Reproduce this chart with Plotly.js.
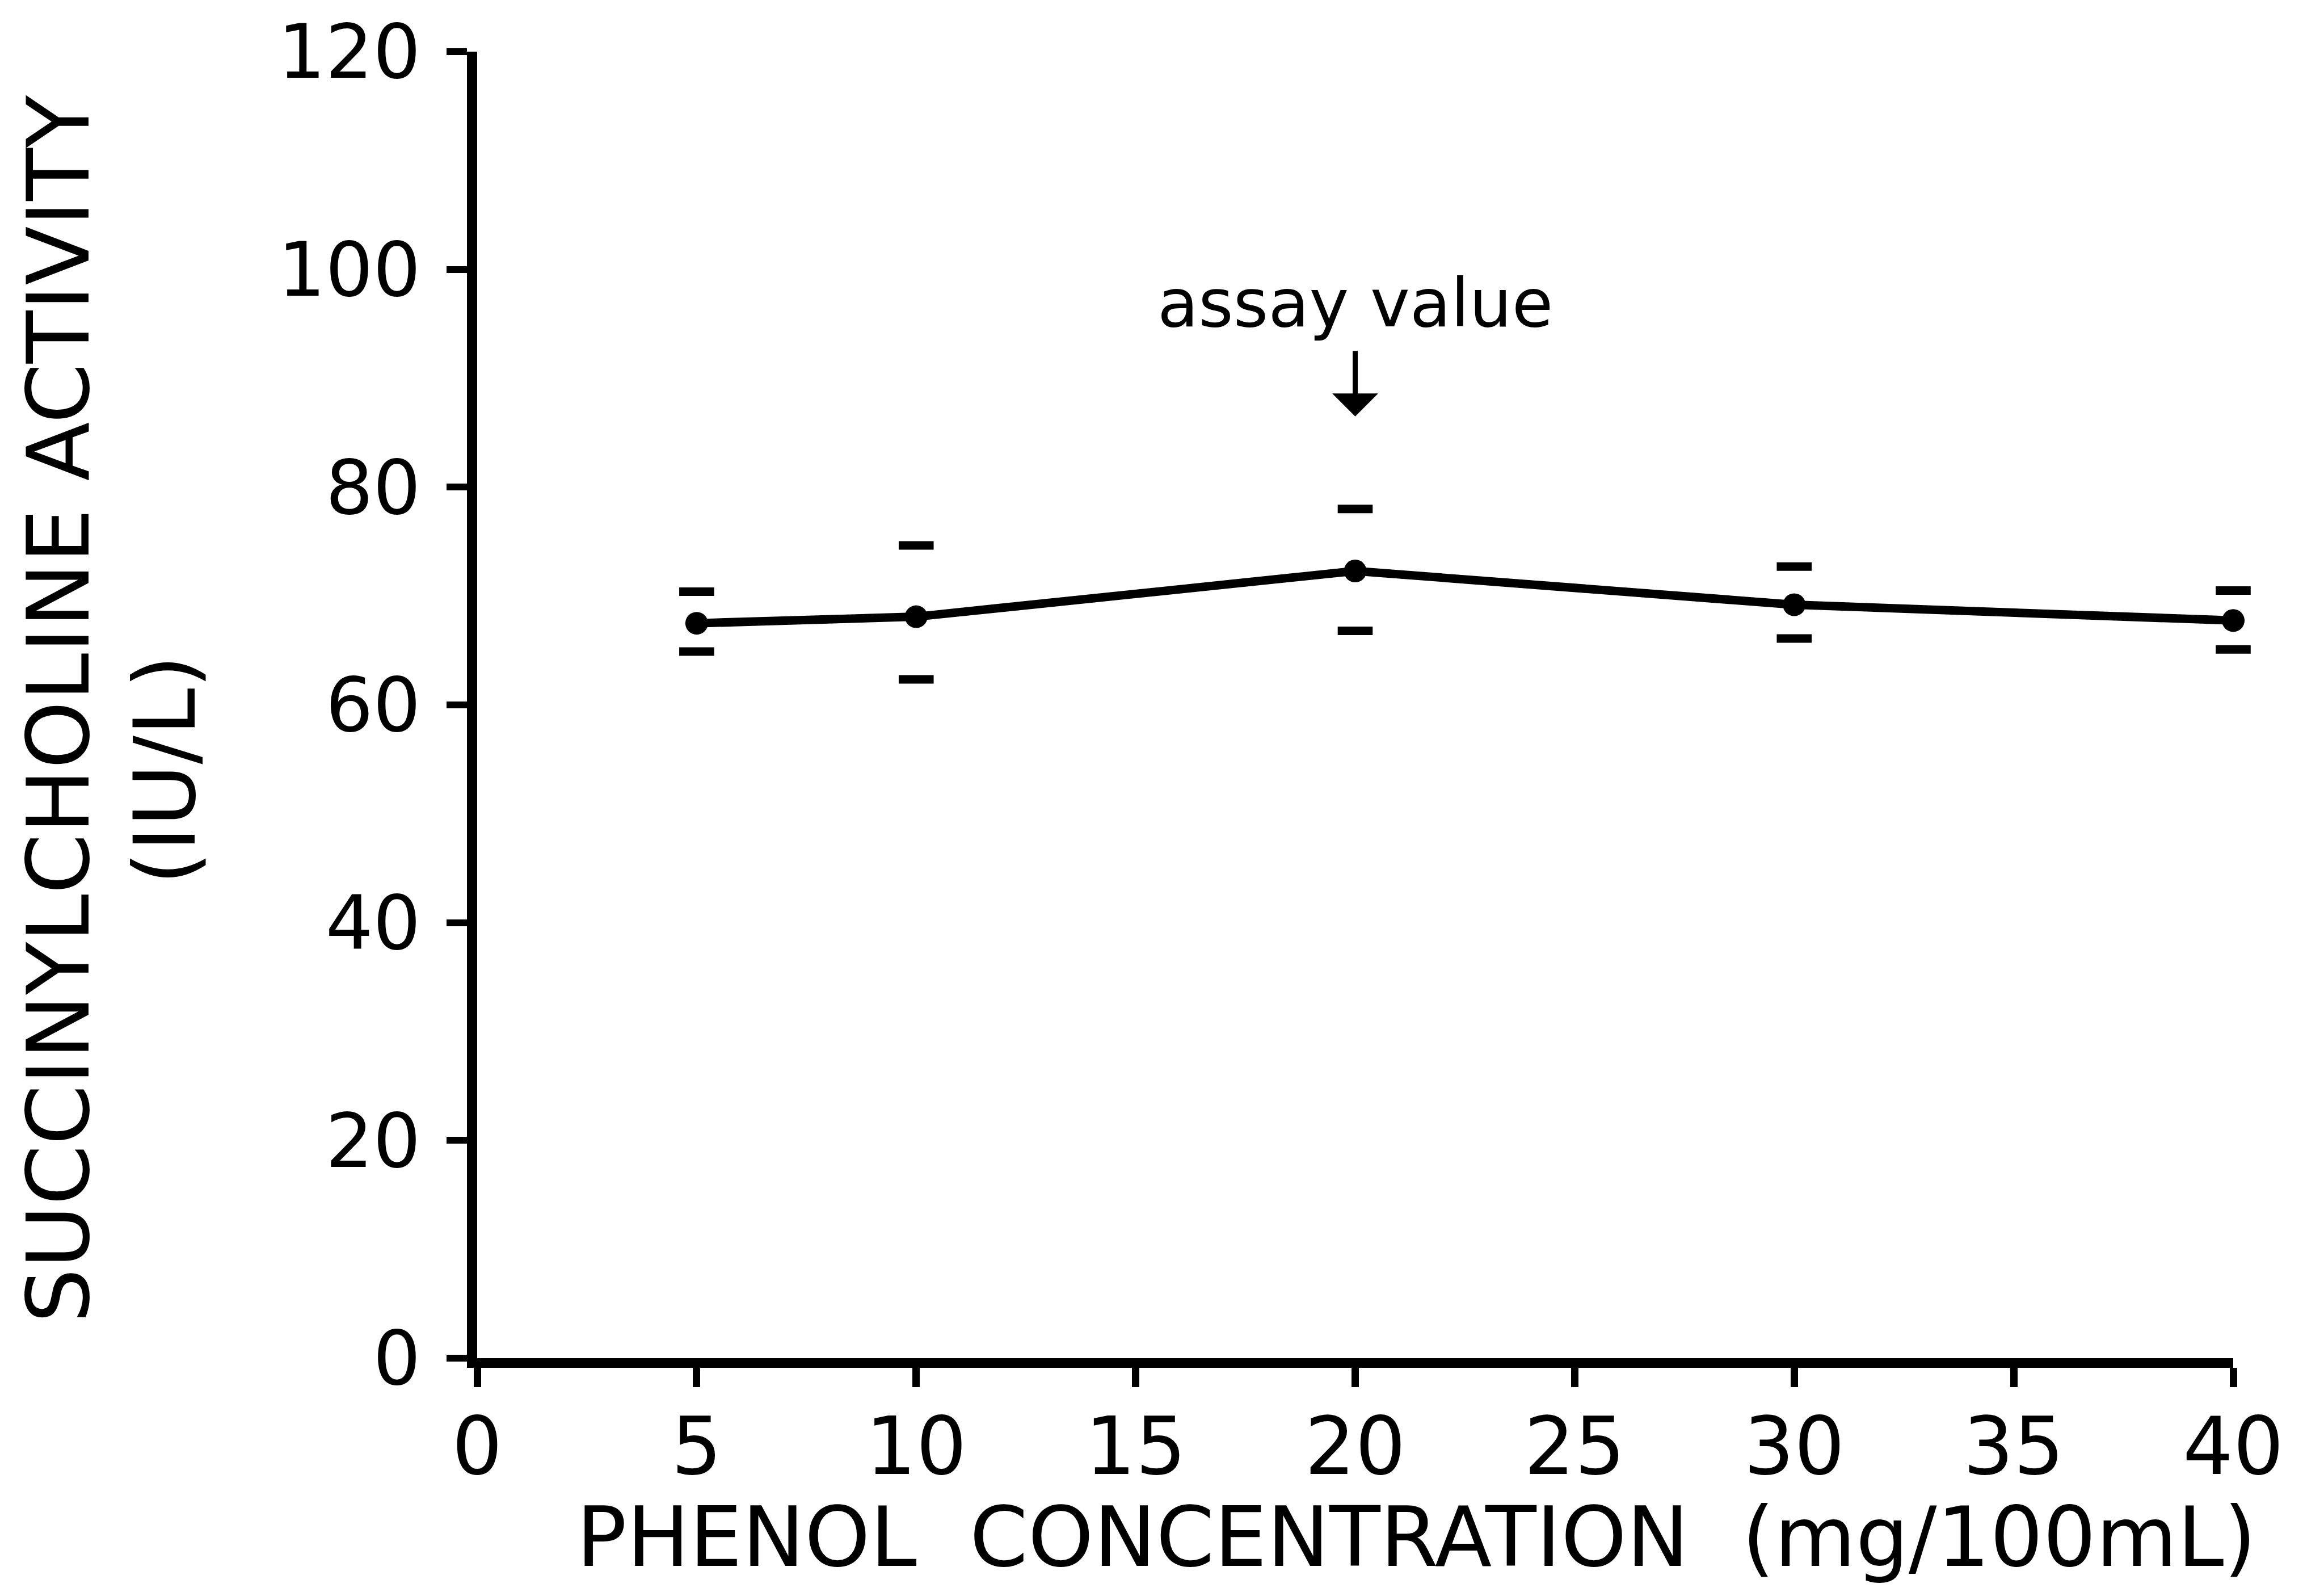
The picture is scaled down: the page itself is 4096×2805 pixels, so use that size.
<!DOCTYPE html>
<html>
<head>
<meta charset="utf-8">
<script src="https://cdn.plot.ly/plotly-3.0.1.min.js"></script>
<style>
  html, body { margin: 0; padding: 0; background: #ffffff; }
  #chart { width: 4096px; height: 2805px; }
</style>
</head>
<body>
<div id="chart"></div>
<script>
// Data
const concentration = [5, 10, 20, 30, 40];          // mg/100mL
const activity      = [67.5, 68.1, 72.3, 69.2, 67.75]; // IU/L (mean)
const upperBar      = [70.4, 74.65, 78.0, 72.7, 70.5];  // upper error mark
const lowerBar      = [64.9, 62.35, 66.8, 66.1, 65.1];  // lower error mark

const xTickVals = [0, 5, 10, 15, 20, 25, 30, 35, 40];
const yTickVals = [0, 20, 40, 60, 80, 100, 120];

const xTitleText = "PHENOL\u00A0 CONCENTRATION\u00A0 (mg/100mL)";
const yTitleLine1 = "SUCCINYLCHOLINE ACTIVITY";
const yTitleLine2 = "(IU/L)";
const assayText = "assay value";
const assayX = 20;
const assayTextY = 96.9;
const assayArrowTipY = 86.5;

const FONT = "DejaVu Sans, Liberation Sans, Arial, sans-serif";
const INK = "#000000";

const traces = [
  {
    x: concentration, y: activity, type: "scatter", mode: "lines+markers",
    line: { color: INK, width: 15 },
    marker: { color: INK, size: 40, symbol: "circle" },
    cliponaxis: false, showlegend: false, hoverinfo: "x+y"
  },
  {
    x: concentration, y: upperBar, type: "scatter", mode: "markers",
    marker: { symbol: "line-ew", size: 44, color: INK, line: { color: INK, width: 15 } },
    cliponaxis: false, showlegend: false
  },
  {
    x: concentration, y: lowerBar, type: "scatter", mode: "markers",
    marker: { symbol: "line-ew", size: 44, color: INK, line: { color: INK, width: 15 } },
    cliponaxis: false, showlegend: false
  }
];

const layout = {
  width: 4096, height: 2805,
  paper_bgcolor: "#ffffff", plot_bgcolor: "#ffffff",
  margin: { l: 841, r: 160, t: 91, b: 412, pad: 0 },
  showlegend: false,
  font: { family: FONT, color: INK },
  xaxis: {
    range: [0, 40], tickvals: xTickVals, ticktext: xTickVals.map(String),
    showgrid: false, zeroline: false, showline: true, linecolor: INK, linewidth: 17,
    ticks: "outside", ticklen: 34, tickwidth: 13, tickcolor: INK,
    ticklabelstandoff: -15,
    tickfont: { family: FONT, size: 140, color: INK },
    fixedrange: true
  },
  yaxis: {
    range: [0, 120], tickvals: yTickVals, ticktext: yTickVals.map(String),
    showgrid: false, zeroline: false, showline: true, linecolor: INK, linewidth: 18,
    ticks: "outside", ticklen: 36, tickwidth: 12, tickcolor: INK,
    ticklabelstandoff: 19,
    tickfont: { family: FONT, size: 132, color: INK },
    fixedrange: true
  },
  annotations: [
    {
      text: xTitleText, xref: "paper", yref: "paper",
      x: 0.535, y: -0.137, xanchor: "center", yanchor: "middle",
      showarrow: false, font: { family: FONT, size: 147, color: INK }
    },
    {
      text: yTitleLine1, xref: "paper", yref: "paper",
      x: -0.238, y: 0.497, xanchor: "center", yanchor: "middle", textangle: -90,
      showarrow: false, font: { family: FONT, size: 152, color: INK }
    },
    {
      text: yTitleLine2, xref: "paper", yref: "paper",
      x: -0.1777, y: 0.450, xanchor: "center", yanchor: "middle", textangle: -90,
      showarrow: false, font: { family: FONT, size: 150, color: INK }
    },
    {
      text: assayText, xref: "x", yref: "y",
      x: assayX, y: assayTextY, xanchor: "center", yanchor: "middle",
      showarrow: false, font: { family: FONT, size: 118, color: INK }
    },
    {
      text: "", xref: "x", yref: "y",
      x: assayX, y: assayArrowTipY, ax: 0, ay: -117,
      showarrow: true, arrowhead: 1, arrowsize: 1.5, arrowwidth: 9, arrowcolor: INK
    }
  ]
};

Plotly.newPlot("chart", traces, layout, { staticPlot: true, displayModeBar: false });
</script>
</body>
</html>
